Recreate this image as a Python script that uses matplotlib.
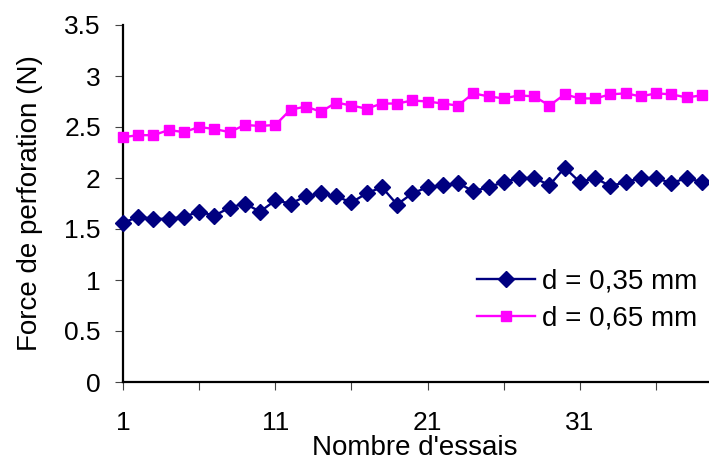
import matplotlib.pyplot as plt

plt.rcParams['font.family'] = ['Liberation Sans', 'DejaVu Sans']

# number of trials
essais = list(range(1, 40))

# perforation force (N), d = 0,35 mm
force_035 = [1.56, 1.62, 1.60, 1.60, 1.62, 1.67, 1.63, 1.71, 1.75, 1.67,
             1.78, 1.75, 1.82, 1.85, 1.82, 1.76, 1.85, 1.91, 1.74, 1.85,
             1.91, 1.93, 1.95, 1.87, 1.91, 1.96, 2.00, 2.00, 1.93, 2.10,
             1.96, 2.00, 1.92, 1.96, 2.00, 2.00, 1.95, 2.00, 1.96]

# perforation force (N), d = 0,65 mm
force_065 = [2.40, 2.42, 2.42, 2.47, 2.45, 2.50, 2.48, 2.45, 2.52, 2.51,
             2.52, 2.67, 2.70, 2.65, 2.74, 2.71, 2.68, 2.73, 2.73, 2.76,
             2.75, 2.73, 2.71, 2.83, 2.80, 2.78, 2.81, 2.80, 2.71, 2.82,
             2.78, 2.78, 2.82, 2.83, 2.80, 2.83, 2.82, 2.79, 2.81]

x_label_ticks = [1, 11, 21, 31]
x_minor_ticks = [6, 16, 26, 36]
y_ticks = [0, 0.5, 1, 1.5, 2, 2.5, 3, 3.5]

fig = plt.figure(figsize=(7.09, 4.62), dpi=100)
ax = fig.add_axes([123 / 709, 80 / 462, 594 / 709, 357 / 462])

ax.plot(essais, force_035, color='#000080', marker='D', markersize=8.5,
        linewidth=1.7, label='d = 0,35 mm', clip_on=False, zorder=3)
ax.plot(essais, force_065, color='#FF00FF', marker='s', markersize=7.5,
        linewidth=1.7, label='d = 0,65 mm', clip_on=False, zorder=3)

ax.set_xlim(1, 40)
ax.set_ylim(0, 3.5)
ax.set_xticks(x_label_ticks)
ax.set_xticklabels([str(v) for v in x_label_ticks])
ax.set_xticks(x_minor_ticks, minor=True)
ax.set_yticks(y_ticks)
ax.set_yticklabels(['%g' % v for v in y_ticks])

ax.spines['top'].set_visible(False)
ax.spines['right'].set_visible(False)
ax.spines['left'].set_linewidth(1.6)
ax.spines['bottom'].set_linewidth(1.6)
ax.tick_params(axis='both', which='both', direction='out', length=6,
               width=0.8, color='#444444', labelsize=19)
ax.tick_params(axis='x', which='major', pad=15)
ax.tick_params(axis='y', which='major', pad=10)

ax.set_xlabel("Nombre d'essais", fontsize=20)
ax.xaxis.set_label_coords(0.4916, -0.148)
ax.set_ylabel('Force de perforation (N)', fontsize=20)
ax.yaxis.set_label_coords(-0.135, 0.5)

ax.legend(loc='upper left', bbox_to_anchor=(477 / 709, 1 - 269 / 462),
          bbox_transform=fig.transFigure, frameon=False, fontsize=20,
          borderpad=0, borderaxespad=0, handlelength=2.1,
          handletextpad=0.24, labelspacing=0.38)

fig.savefig('out.png', dpi=100)
